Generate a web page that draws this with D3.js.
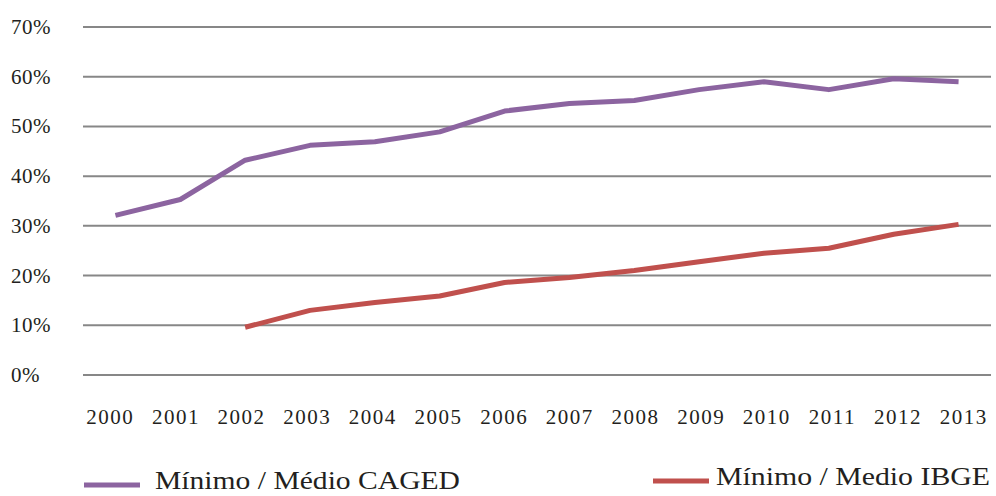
<!DOCTYPE html>
<html lang="pt">
<head>
  <meta charset="utf-8">
  <title>Mínimo / Médio</title>
  <script src="https://cdn.jsdelivr.net/npm/d3@7/dist/d3.min.js"></script>
  <style>
    body { margin: 0; background: #fff; }
    svg text { font-family: "Liberation Serif", "DejaVu Serif", serif; fill: #231f20; }
  </style>
</head>
<body>
  <div id="graphic"></div>
  <script>
    // data (% values)
    var years = ["2000","2001","2002","2003","2004","2005","2006","2007","2008","2009","2010","2011","2012","2013"];
    var caged = [32.1, 35.3, 43.2, 46.2, 46.9, 48.9, 53.1, 54.6, 55.2, 57.4, 59.0, 57.4, 59.6, 59.0];
    var ibge  = [null, null, 9.6, 13.0, 14.6, 15.9, 18.6, 19.6, 21.0, 22.8, 24.5, 25.5, 28.3, 30.3];
    var yTicks = [0, 10, 20, 30, 40, 50, 60, 70];
    var seriesNames = ["Mínimo / Médio CAGED", "Mínimo / Medio IBGE"];
    var colours = ["#8c64a0", "#c0504d"];

    var width = 996, height = 496;
    var margin = {top: 27, right: 5, bottom: 121, left: 83};

    var svg = d3.select('#graphic').append('svg')
      .attr('width', width)
      .attr('height', height);

    var x = d3.scaleBand()
      .domain(years)
      .range([margin.left, width - margin.right]);

    var y = d3.scaleLinear()
      .domain([0, 70])
      .range([375, margin.top]);

    // gridlines
    svg.append('g')
      .selectAll('line')
      .data(yTicks)
      .enter()
      .append('line')
        .attr('x1', margin.left)
        .attr('x2', width - margin.right)
        .attr('y1', function(d){ return y(d); })
        .attr('y2', function(d){ return y(d); })
        .attr('stroke', '#878787')
        .attr('stroke-width', 2);

    // y labels
    svg.append('g')
      .selectAll('text')
      .data(yTicks)
      .enter()
      .append('text')
        .attr('x', 11)
        .attr('y', function(d){ return y(d) + 7; })
        .attr('font-size', 21)
        .attr('letter-spacing', 0.5)
        .text(function(d){ return d + '%'; });

    // x labels
    svg.append('g')
      .selectAll('text')
      .data(years)
      .enter()
      .append('text')
        .attr('x', function(d, i){ return x(d) + x.bandwidth() / 2 + (i - 6.5) * 0.8; })
        .attr('y', 424)
        .attr('text-anchor', 'middle')
        .attr('font-size', 21)
        .attr('letter-spacing', 1.5)
        .text(function(d){ return d; });

    // lines
    var line = d3.line()
      .defined(function(d){ return d.v != null; })
      .x(function(d){ return x(d.year) + x.bandwidth() / 2; })
      .y(function(d){ return y(d.v); });

    [caged, ibge].forEach(function(vals, k){
      var pts = years.map(function(yr, i){ return {year: yr, v: vals[i]}; });
      svg.append('path')
        .datum(pts)
        .attr('d', line)
        .attr('fill', 'none')
        .attr('stroke', colours[k])
        .attr('stroke-width', 5)
        .attr('stroke-linejoin', 'round');
    });

    // legend
    var legendPos = [{sx: 84, tx: 155, y: 485, w: 305}, {sx: 653, tx: 716, y: 481, w: 274}];
    seriesNames.forEach(function(name, k){
      svg.append('line')
        .attr('x1', legendPos[k].sx)
        .attr('x2', legendPos[k].sx + 56)
        .attr('y1', legendPos[k].y)
        .attr('y2', legendPos[k].y)
        .attr('stroke', colours[k])
        .attr('stroke-width', 5);
      svg.append('text')
        .attr('x', legendPos[k].tx)
        .attr('y', legendPos[k].y + 4)
        .attr('font-size', 25)
        .attr('textLength', legendPos[k].w)
        .attr('lengthAdjust', 'spacingAndGlyphs')
        .text(name);
    });
  </script>
</body>
</html>
